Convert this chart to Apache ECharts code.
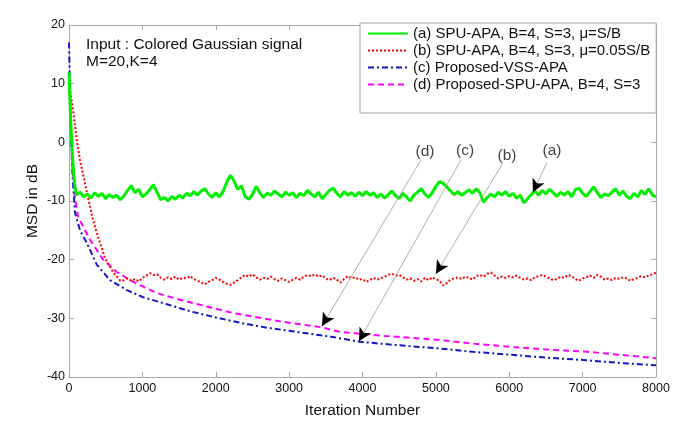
<!DOCTYPE html>
<html><head><meta charset="utf-8">
<script src="https://cdn.jsdelivr.net/npm/echarts@6/dist/echarts.min.js"></script>
<style>html,body{margin:0;padding:0;background:#fff}#c{width:685px;height:429px}</style>
</head><body><div id="c"></div>
<script>
// ---------- data ----------
const xTickLabels = ['0','1000','2000','3000','4000','5000','6000','7000','8000'];
const yTickLabels = ['-40','-30','-20','-10','0','10','20'];
const seriesNames = [
  '(a) SPU-APA, B=4, S=3, \u03bc=S/B',
  '(b) SPU-APA, B=4, S=3, \u03bc=0.05S/B',
  '(c) Proposed-VSS-APA',
  '(d) Proposed-SPU-APA, B=4, S=3'
];
// (a) transient then steady noisy part sampled every 50 iterations from 100
const iterA0 = [0, 25, 50, 75];
const msdA0 = [12, 3, -3, -7];
const startA = 100, stepA = 50;
const msdA = [
 -9.0,-8.5,-9.3,-8.8,-9.5,-8.6,-9.2,-8.7,-9.6,-8.9,-9.4,-9.0,-9.8,-9.1,-8.2,-7.4,-8.6,-8.0,-9.3,-8.8,
 -8.1,-7.2,-8.5,-9.8,-9.4,-10.0,-9.2,-9.7,-9.0,-9.5,-8.7,-9.1,-8.4,-9.0,-8.3,-7.9,-8.8,-9.4,-8.6,-9.3,
 -8.4,-6.8,-5.6,-6.6,-8.0,-7.4,-9.2,-9.7,-8.9,-7.5,-8.6,-9.4,-8.7,-9.0,-8.3,-8.8,-9.3,-8.5,-9.0,-8.6,
 -9.4,-8.7,-9.1,-8.2,-8.8,-9.3,-8.5,-9.6,-8.9,-8.2,-7.8,-8.7,-9.3,-8.4,-9.0,-8.6,-9.2,-8.5,-9.1,-8.4,
 -9.0,-8.6,-9.4,-8.8,-9.5,-8.9,-8.3,-9.1,-9.6,-8.7,-9.3,-10.0,-9.0,-8.5,-7.9,-8.8,-9.4,-8.6,-7.5,-6.7,
 -7.0,-7.6,-8.3,-8.9,-8.4,-9.0,-8.6,-8.1,-8.7,-7.9,-8.6,-10.2,-9.4,-8.8,-9.3,-8.5,-9.0,-8.4,-9.2,-8.7,
 -9.5,-9.0,-10.3,-9.6,-8.9,-8.3,-9.0,-8.2,-8.8,-8.0,-8.6,-9.2,-8.5,-9.0,-8.4,-9.3,-8.1,-7.8,-8.7,-9.2,
 -8.4,-7.6,-8.6,-9.4,-8.8,-9.1,-8.5,-7.9,-9.0,-8.3,-9.2,-9.6,-8.7,-9.3,-8.2,-8.9,-7.9,-9.0,-9.3
];
// (b) transient then steady noisy part sampled every 50 iterations from 750
const iterB0 = [0, 50, 110, 150, 245, 327, 381, 490, 600, 700];
const msdB0 = [10, 6, 0, -3, -8.6, -13.2, -15.5, -19.7, -22.1, -23.6];
const startB = 750, stepB = 50;
const msdB = [
 -23.5,-23.2,-23.6,-23.3,-23.7,-23.1,-22.8,-22.3,-22.6,-22.5,-23.1,-23.4,-23.0,-23.3,-22.9,-23.4,-23.1,-23.2,-22.8,-23.3,
 -23.6,-23.9,-24.2,-23.8,-23.5,-23.1,-23.4,-23.8,-24.1,-24.3,-23.9,-23.5,-23.0,-22.6,-22.9,-22.5,-23.0,-23.4,-23.1,-23.3,
 -22.9,-23.3,-23.6,-23.2,-23.5,-23.8,-23.4,-23.1,-23.4,-22.9,-22.6,-22.8,-22.5,-22.9,-22.7,-23.2,-23.5,-23.1,-23.4,-23.9,
 -23.3,-22.8,-23.2,-23.0,-23.4,-23.3,-23.8,-23.5,-23.1,-23.4,-23.2,-22.9,-22.6,-22.4,-22.7,-22.6,-23.0,-23.4,-23.2,-23.6,
 -23.3,-23.7,-23.1,-23.5,-23.0,-23.3,-23.6,-24.4,-24.0,-23.4,-23.2,-23.0,-23.3,-22.9,-23.1,-23.4,-22.8,-22.6,-22.9,-22.4,
 -22.2,-22.7,-23.2,-22.9,-23.1,-22.8,-23.0,-22.7,-23.1,-23.4,-23.2,-23.5,-23.0,-22.8,-22.6,-22.9,-23.2,-23.5,-23.3,-22.9,
 -23.1,-22.6,-22.8,-23.3,-23.6,-23.2,-23.0,-22.7,-23.1,-22.6,-22.9,-23.4,-23.2,-23.5,-23.1,-23.3,-23.0,-23.2,-23.6,-23.3,
 -23.1,-22.8,-23.0,-22.7,-22.5,-22.2
];
// (c) Proposed-VSS-APA
const iterC = [0, 15, 30, 50, 82, 150, 245, 381, 560, 790, 1010, 1335, 1650, 2017, 2350, 2698, 3100, 3600, 3966, 4500, 5015, 5500, 6010, 6500, 7005, 7500, 8000];
const msdC  = [17, 8, 0, -6, -12, -15, -17.2, -20.9, -23.5, -25.2, -26.4, -27.6, -28.8, -29.9, -30.8, -31.6, -32.3, -33.2, -34.0, -34.6, -35.1, -35.7, -36.2, -36.7, -37.1, -37.6, -38.0];
// (d) Proposed-SPU-APA
const iterD = [0, 20, 50, 80, 125, 286, 466, 650, 877, 1200, 1500, 1785, 2240, 2600, 2923, 3425, 3693, 4300, 5056, 5500, 6056, 6500, 7056, 7500, 8000];
const msdD  = [12, 3, -5, -9.5, -12.7, -16.6, -20.0, -22.1, -23.8, -25.7, -26.8, -27.7, -29.1, -29.9, -30.6, -31.5, -32.3, -33.0, -33.7, -34.3, -34.9, -35.3, -35.7, -36.2, -36.8];
// annotations (data coordinates)
const annotLabels = ['(a)', '(b)', '(c)', '(d)'];
const annotTextPos = [[6582, -1.5], [5969, -2.2], [5397, -1.5], [4851, -1.6]];
const annotFrom = [[6514, -3.5], [5914, -3.5], [5342, -3.0], [4797, -3.0]];
const annotTo   = [[6323, -8.5], [5001, -22.4], [3952, -33.9], [3448, -31.3]];
const noteText = 'Input : Colored Gaussian signal\nM=20,K=4';

// ---------- build ----------
function zip(xs, ys) { return xs.map((x, i) => [x, ys[i]]); }
const dataA = zip(iterA0, msdA0).concat(msdA.map((v, i) => [startA + i * stepA, v]));
const dataB = zip(iterB0, msdB0).concat(msdB.map((v, i) => [startB + i * stepB, v]));
const dataC = zip(iterC, msdC);
const dataD = zip(iterD, msdD);

const FONT = 'Liberation Sans, Arial, Helvetica, sans-serif';
const axisGray = '#a8a8a8';
const chart = echarts.init(document.getElementById('c'), null, {renderer: 'canvas'});

const baseAxisX = {
  type: 'value', min: 0, max: 8000, interval: 1000,
  axisLine: {show: true, onZero: false, lineStyle: {color: axisGray, width: 1}},
  axisTick: {show: true, inside: true, length: 5, lineStyle: {color: axisGray}},
  splitLine: {show: false}
};
const baseAxisY = {
  type: 'value', min: -40, max: 20, interval: 10,
  axisLine: {show: true, onZero: false, lineStyle: {color: axisGray, width: 1}},
  axisTick: {show: true, inside: true, length: 5, lineStyle: {color: axisGray}},
  splitLine: {show: false}
};

const option = {
  animation: false,
  backgroundColor: '#fff',
  textStyle: {fontFamily: FONT},
  grid: {left: 69, right: 29, top: 25, bottom: 52, containLabel: false},
  title: {
    text: noteText, left: 81, top: 31,
    textStyle: {fontFamily: FONT, fontSize: 15.5, fontWeight: 'normal', color: '#111', lineHeight: 17}
  },
  legend: {
    data: seriesNames,
    orient: 'vertical', left: 360, top: 23,
    padding: [3, 6, 21, 7], itemGap: 2,
    itemWidth: 40, itemHeight: 14,
    itemStyle: {opacity: 0},
    backgroundColor: '#fff', borderColor: '#a0a0a0', borderWidth: 1,
    textStyle: {fontFamily: FONT, fontSize: 15, color: '#111', lineHeight: 15},
    selectedMode: false
  },
  xAxis: [
    Object.assign({}, baseAxisX, {
      position: 'bottom',
      name: 'Iteration Number', nameLocation: 'middle', nameGap: 26,
      nameTextStyle: {fontFamily: FONT, fontSize: 15.5, color: '#111'},
      axisLabel: {show: true, margin: 5, fontFamily: FONT, fontSize: 12.5, color: '#111',
        formatter: (v) => xTickLabels[Math.round(v / 1000)]}
    }),
    Object.assign({}, baseAxisX, {position: 'top', axisLabel: {show: false}})
  ],
  yAxis: [
    Object.assign({}, baseAxisY, {
      position: 'left',
      name: 'MSD in dB', nameLocation: 'middle', nameGap: 28, nameRotate: 90,
      nameMoveOverlap: false,
      nameTextStyle: {fontFamily: FONT, fontSize: 15.5, color: '#111'},
      axisLabel: {show: true, margin: 4, fontFamily: FONT, fontSize: 12.5, color: '#111',
        formatter: (v) => yTickLabels[Math.round((v + 40) / 10)]}
    }),
    Object.assign({}, baseAxisY, {position: 'right', axisLabel: {show: false}})
  ],
  series: [
    {id: 'd', name: seriesNames[3], type: 'line', data: dataD, symbol: 'none', z: 3,
      lineStyle: {color: '#ff00ff', width: 2, type: [6, 4]}, itemStyle: {color: '#ff00ff'}},
    {id: 'c', name: seriesNames[2], type: 'line', data: dataC, symbol: 'none', z: 3,
      lineStyle: {color: '#1414c8', width: 2, type: [6, 3, 2, 3]}, itemStyle: {color: '#1414c8'}},
    {id: 'b', name: seriesNames[1], type: 'line', data: dataB, symbol: 'none', z: 4,
      lineStyle: {color: '#ff0000', width: 2, type: [2, 2]}, itemStyle: {color: '#ff0000'}},
    {id: 'a', name: seriesNames[0], type: 'line', data: dataA, symbol: 'none', z: 4,
      lineStyle: {color: '#00f000', width: 3, type: 'solid'}, itemStyle: {color: '#00f000'}},
    {id: 'labels', name: 'labels', type: 'scatter', data: annotTextPos, symbolSize: 1, z: 6, silent: true,
      itemStyle: {color: 'rgba(0,0,0,0)'},
      label: {show: true, position: 'inside', fontFamily: FONT, fontSize: 15.5, color: '#111',
        formatter: (p) => annotLabels[p.dataIndex]}},
    {id: 'annotLines', name: 'annotLines', type: 'line', data: [], z: 7, silent: true},
    {id: 'annotTips', name: 'annotTips', type: 'line', data: [], z: 8, silent: true}
  ]
};
chart.setOption(option);

// annotation lines: light gray line, black arrowhead at the tip
const grayLines = [], blackTips = [];
for (let i = 0; i < annotFrom.length; i++) {
  const f = annotFrom[i], t = annotTo[i];
  const pf = chart.convertToPixel({gridIndex: 0}, f);
  const pt = chart.convertToPixel({gridIndex: 0}, t);
  const L = Math.hypot(pf[0] - pt[0], pf[1] - pt[1]);
  const k = 4 / L;
  const near = [t[0] + (f[0] - t[0]) * k, t[1] + (f[1] - t[1]) * k];
  grayLines.push([{coord: f}, {coord: t}]);
  blackTips.push([{coord: near}, {coord: t}]);
}
chart.setOption({
  series: [
    {id: 'annotLines',
      markLine: {silent: true, animation: false, symbol: ['none', 'none'], label: {show: false},
        lineStyle: {color: '#9a9a9a', width: 0.8, type: 'solid'}, data: grayLines}},
    {id: 'annotTips',
      markLine: {silent: true, animation: false, symbol: ['none', 'arrow'], symbolSize: [10, 13], label: {show: false},
        lineStyle: {color: '#000', width: 1, type: 'solid'}, data: blackTips}}
  ]
});
</script>
</body></html>
